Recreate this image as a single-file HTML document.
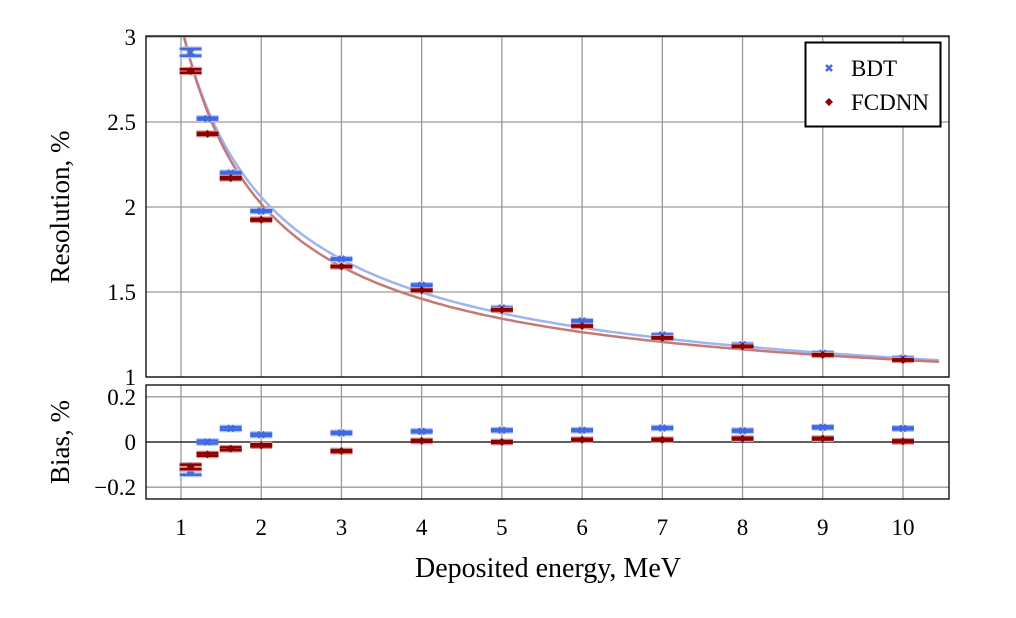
<!DOCTYPE html>
<html><head><meta charset="utf-8"><style>
body{margin:0;background:#fff;}
svg{display:block;font-family:"Liberation Serif",serif;}
</style></head><body>
<svg id="c" width="1016" height="618"></svg>
<script>
const energies=[1.12,1.33,1.62,2.0,3,4,5,6,7,8,9,10];
const bdtRes=[2.91,2.52,2.20,1.976,1.694,1.54,1.406,1.33,1.247,1.19,1.14,1.11];
const fcdnnRes=[2.80,2.43,2.17,1.925,1.65,1.51,1.395,1.30,1.23,1.18,1.13,1.10];
const bdtResErr=[0.02,0.006,0.006,0.005,0.004,0.004,0.004,0.004,0.004,0.004,0.004,0.004];
const fcdnnResErr=[0.01,0.006,0.006,0.005,0.004,0.004,0.004,0.004,0.004,0.004,0.004,0.004];
const bdtBias=[-0.125,0.0,0.06,0.032,0.04,0.047,0.052,0.052,0.062,0.05,0.065,0.06];
const fcdnnBias=[-0.11,-0.055,-0.03,-0.015,-0.04,0.005,0.0,0.01,0.01,0.015,0.015,0.003];
const bdtBiasErr=[0.02,0.006,0.006,0.005,0.004,0.004,0.004,0.004,0.004,0.004,0.004,0.004];
const fcdnnBiasErr=[0.01,0.006,0.006,0.005,0.004,0.004,0.004,0.004,0.004,0.004,0.004,0.004];
const bdtFit=[5.63,3.13,0.64];
const fcdnnFit=[4.70,4.10,0.70];
const xTicks=[1,2,3,4,5,6,7,8,9,10];
const resTicks=[1,1.5,2,2.5,3];
const resTickLabels=["1","1.5","2","2.5","3"];
const biasTicks=[-0.2,0,0.2];
const biasTickLabels=["\u22120.2","0","0.2"];

const NS="http://www.w3.org/2000/svg";
const svg=document.getElementById('c');
function mk(tag,at,parent){const e=document.createElementNS(NS,tag);for(const k in at)e.setAttribute(k,at[k]);(parent||svg).appendChild(e);return e;}
const L=146,R=949,T1=36,B1=377,T2=385,B2=499;
const X=v=>181+(v-1)*80.22;
const Y1=v=>377-(v-1)*170;
const Y2=v=>442-v*226;
let defs=mk('defs',{});
let cp=mk('clipPath',{id:'cl'},defs);mk('rect',{x:L,y:T1,width:R-L,height:B1-T1},cp);
let p1=mk('g',{});
let p2=mk('g',{});
xTicks.forEach(t=>{
  let g=mk('line',{x1:X(t),x2:X(t),y1:T1,y2:B1,stroke:'#999','stroke-width':1.3},p1);
  
  let g2=mk('line',{x1:X(t),x2:X(t),y1:T2,y2:B2,stroke:'#999','stroke-width':1.3},p2);
  
  let tx=mk('text',{x:X(t),y:535,'font-size':23,'text-anchor':'middle',fill:'#000'});tx.textContent=t;
  
});
resTicks.forEach((t,i)=>{
  let g=mk('line',{x1:L,x2:R,y1:Y1(t),y2:Y1(t),stroke:'#999','stroke-width':1.3},p1);
  
  let tx=mk('text',{x:136,y:Y1(t)+8,'font-size':23,'text-anchor':'end',fill:'#000'});tx.textContent=resTickLabels[i];
  
});
biasTicks.forEach((t,i)=>{
  let g=mk('line',{x1:L,x2:R,y1:Y2(t),y2:Y2(t),stroke:t===0?'#000':'#999','stroke-width':1.3},p2);
  
  let tx=mk('text',{x:136,y:Y2(t)+8,'font-size':23,'text-anchor':'end',fill:'#000'});tx.textContent=biasTickLabels[i];
  
});
let cg=mk('g',{'clip-path':'url(#cl)'},p1);

function curve(par,col,name){
  let d='';for(let e=0.9;e<=10.5;e+=0.05){const v=Math.sqrt(par[0]/e+par[1]/(e*e)+par[2]);d+=(d?'L':'M')+X(e).toFixed(1)+','+Y1(v).toFixed(1);}
  let p=mk('path',{d:d,fill:'none',stroke:col,'stroke-width':2.5},cg);
  
}
curve(bdtFit,'#9fb3ef','bdt-fit-curve');
curve(fcdnnFit,'#c47a76','fcdnn-fit-curve');
function pts(vals,errs,Y,col,light,marker,name,parent){
  energies.forEach((e,i)=>{
    const g=mk('g',{},parent);
    const x=X(e),y=Y(vals[i]),yu=Y(vals[i]+errs[i]),yl=Y(vals[i]-errs[i]);
    [yu,yl].forEach(yy=>{mk('line',{x1:x-11,x2:x+11,y1:yy,y2:yy,stroke:light,'stroke-width':5},g);});
    [yu,yl].forEach(yy=>{mk('line',{x1:x-11,x2:x+11,y1:yy,y2:yy,stroke:col,'stroke-width':2.5},g);});
    mk('line',{x1:x,x2:x,y1:yu,y2:yl,stroke:col,'stroke-width':2},g);
    if(marker==='d')mk('path',{d:`M${x},${y-4}L${x+4},${y}L${x},${y+4}L${x-4},${y}Z`,fill:col},g);
    else mk('path',{d:`M${x-3},${y-3}L${x+3},${y+3}M${x+3},${y-3}L${x-3},${y+3}`,stroke:col,'stroke-width':2.5},g);
  });
}
pts(bdtRes,bdtResErr,Y1,'#4169e1','#b4c3f3','x','bdt-resolution-point',p1);
pts(fcdnnRes,fcdnnResErr,Y1,'#8b0000','#d39a9a','d','fcdnn-resolution-point',p1);
pts(bdtBias,bdtBiasErr,Y2,'#4169e1','#b4c3f3','x','bdt-bias-point',p2);
pts(fcdnnBias,fcdnnBiasErr,Y2,'#8b0000','#d39a9a','d','fcdnn-bias-point',p2);
let f1=mk('rect',{x:L,y:T1,width:R-L,height:B1-T1,fill:'none',stroke:'#000','stroke-width':1.3});

let f2=mk('rect',{x:L,y:T2,width:R-L,height:B2-T2,fill:'none',stroke:'#000','stroke-width':1.3});

let lg=mk('g',{});
mk('rect',{x:805.5,y:42.5,width:135,height:84,fill:'#fff',stroke:'#000','stroke-width':2},lg);
let e1=mk('g',{},lg);
mk('path',{d:'M826,65L832,71M832,65L826,71',stroke:'#4169e1','stroke-width':2.5},e1);
let t1=mk('text',{x:851,y:76,'font-size':23},e1);t1.textContent='BDT';
let e2=mk('g',{},lg);
mk('path',{d:'M829,98L833,102L829,106L825,102Z',fill:'#8b0000'},e2);
let t2=mk('text',{x:851,y:110,'font-size':23},e2);t2.textContent='FCDNN';
let yt=mk('text',{x:0,y:0,'font-size':27,'text-anchor':'middle',transform:'translate(69,207) rotate(-90)'});yt.textContent='Resolution, %';

let bt=mk('text',{x:0,y:0,'font-size':27,'text-anchor':'middle',transform:'translate(69,442) rotate(-90)'});bt.textContent='Bias, %';

let xt=mk('text',{x:548,y:577,'font-size':28,'text-anchor':'middle'});xt.textContent='Deposited energy, MeV';

</script>
</body></html>
